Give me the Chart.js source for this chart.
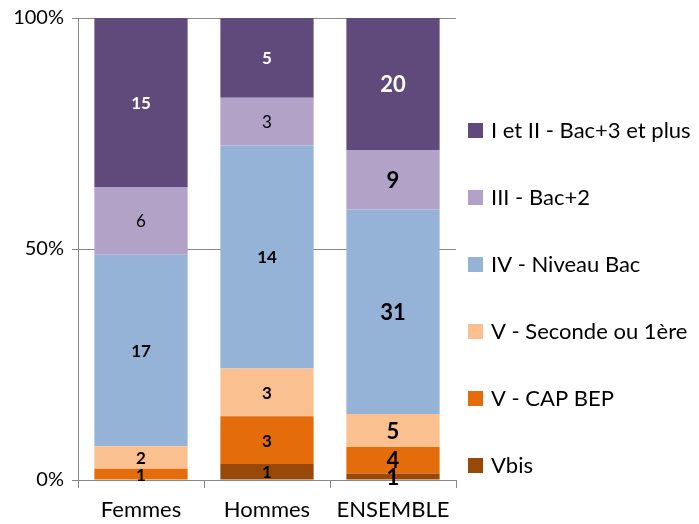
<!DOCTYPE html>
<html>
<head>
<meta charset="utf-8">
<script src="https://cdn.jsdelivr.net/npm/chart.js@4.4.0/dist/chart.umd.min.js"></script>
<style>
  html, body { margin: 0; padding: 0; background: #fff; }
  #wrap { width: 699px; height: 524px; }
</style>
</head>
<body>
<div id="wrap"><canvas id="chart" width="699" height="524"></canvas></div>
<script>
// categories and counts (bottom to top)
const categories = ['Femmes', 'Hommes', 'ENSEMBLE'];
const vbis     = [0, 1, 1];
const capBep   = [1, 3, 4];
const seconde  = [2, 3, 5];
const niveauBac = [17, 14, 31];
const bac2     = [6, 3, 9];
const bac3     = [15, 5, 20];
const yTicks   = [0, 50, 100];

const series = [
  { label: 'Vbis', data: vbis, color: '#984807', text: '#000' },
  { label: 'V - CAP BEP', data: capBep, color: '#E46C0A', text: '#000' },
  { label: 'V - Seconde ou 1ère', data: seconde, color: '#FAC090', text: '#000' },
  { label: 'IV - Niveau Bac', data: niveauBac, color: '#95B3D7', text: '#000' },
  { label: 'III - Bac+2', data: bac2, color: '#B3A2C7', text: '#000' },
  { label: 'I et II - Bac+3 et plus', data: bac3, color: '#604A7B', text: '#fff' }
];

const totals = categories.map((c, i) => series.reduce((s, d) => s + d.data[i], 0));
const FONT = 'Lato, "Open Sans", sans-serif';

// value labels inside each segment
const segLabels = {
  id: 'segLabels',
  afterDatasetsDraw(chart) {
    const ctx = chart.ctx;
    ctx.save();
    ctx.textAlign = 'center';
    ctx.textBaseline = 'middle';
    chart.data.datasets.forEach((ds, di) => {
      const meta = chart.getDatasetMeta(di);
      meta.data.forEach((bar, i) => {
        const v = series[di].data[i];
        if (!v) return;
        const big = i === 2;
        const weight = (!big && di === 4) ? 'normal' : 'bold';
        ctx.font = weight + ' ' + (big ? 22 : 17) + 'px ' + FONT;
        ctx.fillStyle = series[di].text;
        const y = (bar.y + bar.base) / 2;
        ctx.fillText(String(v), bar.x, y + 1);
      });
    });
    ctx.restore();
  }
};

// legend on the right, top series first
const sideLegend = {
  id: 'sideLegend',
  afterDraw(chart) {
    const ctx = chart.ctx;
    ctx.save();
    ctx.font = '22px ' + FONT;
    ctx.textBaseline = 'middle';
    ctx.textAlign = 'left';
    const items = series.slice().reverse();
    items.forEach((s, k) => {
      const cy = 130 + k * 67;
      ctx.fillStyle = s.color;
      ctx.fillRect(468, cy - 7, 15, 15);
      ctx.fillStyle = '#000';
      ctx.fillText(s.label, 491, cy + 1);
    });
    ctx.restore();
  }
};

new Chart(document.getElementById('chart'), {
  type: 'bar',
  data: {
    labels: categories,
    datasets: series.map(s => ({
      label: s.label,
      data: s.data.map((v, i) => v / totals[i] * 100),
      backgroundColor: s.color,
      borderWidth: 0,
      barPercentage: 0.74,
      categoryPercentage: 1
    }))
  },
  options: {
    responsive: false,
    animation: false,
    layout: { padding: { top: 18, right: 243, bottom: 0, left: 0 } },
    plugins: {
      legend: { display: false },
      tooltip: { enabled: false }
    },
    scales: {
      x: {
        stacked: true,
        afterFit: s => { s.height = 44; },
        grid: { offset: true, drawOnChartArea: false, drawTicks: true, tickLength: 8, color: '#888' },
        border: { display: true, color: '#888', width: 1 },
        ticks: { color: '#000', font: { family: FONT, size: 22 }, padding: 9 }
      },
      y: {
        stacked: true,
        min: 0,
        max: 100,
        afterFit: s => { s.width = 78; s.paddingTop = 0; s.paddingBottom = 0; },
        afterBuildTicks: s => { s.ticks = yTicks.map(v => ({ value: v })); },
        grid: { color: '#888', tickLength: 6 },
        border: { display: true, color: '#888', width: 1 },
        ticks: {
          color: '#000',
          font: { family: FONT, size: 20 },
          padding: 8,
          callback: v => v + '%'
        }
      }
    }
  },
  plugins: [segLabels, sideLegend]
});
</script>
</body>
</html>
